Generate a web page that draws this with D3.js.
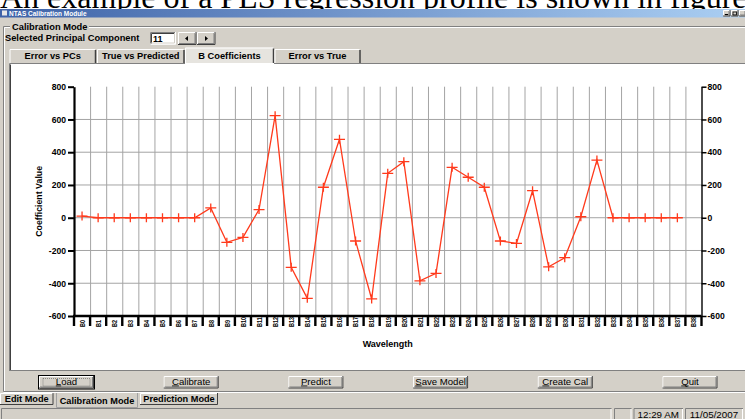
<!DOCTYPE html>
<html>
<head>
<meta charset="utf-8">
<script src="https://cdn.jsdelivr.net/npm/d3@7"></script>
<style>
html, body { margin: 0; padding: 0; background: #fff; overflow: hidden; }
svg { display: block; font-family: "Liberation Sans", Arial, sans-serif; }
</style>
</head>
<body>
<svg id="win" width="745" height="419"></svg>
<script>
// chart data
const bands = ["B0","B1","B2","B3","B4","B5","B6","B7","B8","B9","B10","B11","B12","B13",
    "B14","B15","B16","B17","B18","B19","B20","B21","B22","B23","B24","B25","B26","B27",
    "B28","B29","B30","B31","B32","B33","B34","B35","B36","B37","B38"];
const coefs = [10, 0, 0, 0, 0, 0, 0, 0, 60, -150, -120, 50, 623, -303, -492, 186, 479, -142,
    -496, 271, 342, -385, -340, 308, 247, 186, -142, -157, 165, -300, -244, 6, 352, 0, 0, 0, 0, 0];
const yTicks = [-600, -400, -200, 0, 200, 400, 600, 800];

// window texts
const pageTabs = ["Error vs PCs", "True vs Predicted", "B Coefficients", "Error vs True"];
const buttons = ["Load", "Calibrate", "Predict", "Save Model", "Create Cal", "Quit"];
const modeTabs = ["Edit Mode", "Calibration Mode", "Prediction Mode"];
const statusTexts = ["", "", "12:29 AM", "11/05/2007"];

const FACE = "#d4d0c8";
const svg = d3.select("#win");

function bevel(g, x, y, w, h, sunken, fill) {
    const a = sunken ? "#808080" : "#ffffff";
    const b = sunken ? "#ffffff" : "#404040";
    const c = sunken ? "#404040" : "#808080";
    g.append("rect").attr("x", x).attr("y", y).attr("width", w).attr("height", h)
        .attr("fill", fill || FACE);
    g.append("path").attr("d", `M${x + .5},${y + h}V${y + .5}H${x + w}`)
        .attr("fill", "none").attr("stroke", a);
    g.append("path").attr("d", `M${x},${y + h - .5}H${x + w - .5}V${y}`)
        .attr("fill", "none").attr("stroke", b);
    g.append("path").attr("d", `M${x + 1.5},${y + h - 1}V${y + 1.5}H${x + w - 1}`)
        .attr("fill", "none").attr("stroke", sunken ? "#404040" : FACE);
    g.append("path").attr("d", `M${x + 1},${y + h - 1.5}H${x + w - 1.5}V${y + 1}`)
        .attr("fill", "none").attr("stroke", sunken ? FACE : c);
}

// document text behind the window
svg.append("text")
    .attr("x", 0).attr("y", 7.5)
    .style("font-family", "'Liberation Serif', 'Times New Roman', serif")
    .style("font-size", "32px")
    .text("An example of a PLS regression profile is shown in figure");

// form background
svg.append("rect").attr("x", 0).attr("y", 9).attr("width", 745).attr("height", 410).attr("fill", FACE);

// title bar
const grad = svg.append("defs").append("linearGradient").attr("id", "tb");
grad.append("stop").attr("offset", "0%").attr("stop-color", "#3f63a8");
grad.append("stop").attr("offset", "100%").attr("stop-color", "#abcff3");
svg.append("rect").attr("x", 0).attr("y", 9).attr("width", 745).attr("height", 8.5).attr("fill", "url(#tb)");
svg.append("rect").attr("x", 2).attr("y", 10.5).attr("width", 5).attr("height", 5).attr("fill", "#e8e8e8");
svg.append("text").attr("x", 9).attr("y", 15.8)
    .style("font-size", "6.5px").style("font-weight", "bold").attr("fill", "#fff")
    .text("NTAS Calibration Module");
[723, 731, 739].forEach((bx, i) => {
    const g = svg.append("g");
    bevel(g, bx, 10, 7.5, 6.5, false);
    if (i === 0) g.append("rect").attr("x", bx + 2).attr("y", 14).attr("width", 3).attr("height", 1).attr("fill", "#000");
    if (i === 1) g.append("rect").attr("x", bx + 2).attr("y", 12).attr("width", 3.5).attr("height", 3)
        .attr("fill", "none").attr("stroke", "#000").attr("stroke-width", 0.8);
});

// group box "Calibration Mode"
const gb = svg.append("g");
gb.append("path").attr("d", "M3.5,391.5V26.5H10M89,26.5H745M3.5,391.5H745")
    .attr("fill", "none").attr("stroke", "#808080");
gb.append("path").attr("d", "M4.5,391V27.5H10M89,27.5H745M3.5,392.5H745")
    .attr("fill", "none").attr("stroke", "#fff");
const lbl = (x, y, t, size, weight) => svg.append("text").attr("x", x).attr("y", y)
    .style("font-size", size + "px").style("font-weight", weight || "bold").text(t);
lbl(12, 29.5, "Calibration Mode", 9.3);
lbl(5, 40.5, "Selected Principal Component", 9.3);

// spin box
bevel(svg.append("g"), 150, 32, 26, 12.5, true, "#fff");
lbl(153, 41.5, "11", 9);
const sb1 = svg.append("g"); bevel(sb1, 178, 32, 18.5, 13, false);
sb1.append("path").attr("d", "M185,38.5l3,-2.5v5z").attr("fill", "#000");
const sb2 = svg.append("g"); bevel(sb2, 197, 32, 18.5, 13, false);
sb2.append("path").attr("d", "M208,38.5l-3,-2.5v5z").attr("fill", "#000");

// page tabs
const tabEdges = [9, 96.5, 185, 274, 361];
const tabs = svg.append("g");
pageTabs.forEach((t, i) => {
    const sel = i === 2;
    const x0 = tabEdges[i] + (sel ? 0 : 0.5), x1 = tabEdges[i + 1] - (sel ? 0 : 0.5);
    const y0 = sel ? 47.5 : 49;
    tabs.append("rect").attr("x", x0).attr("y", y0).attr("width", x1 - x0).attr("height", 64 - y0)
        .attr("fill", sel ? "#e6e4df" : FACE);
    tabs.append("path").attr("d", `M${x0 + .5},63V${y0 + .5}H${x1 - 1}`)
        .attr("fill", "none").attr("stroke", "#fff");
    tabs.append("path").attr("d", `M${x1 - .5},${y0 + 1}V63`)
        .attr("fill", "none").attr("stroke", "#404040").attr("stroke-width", 1.5);
    tabs.append("text").attr("x", (x0 + x1) / 2).attr("y", 59).attr("text-anchor", "middle")
        .style("font-size", "9.3px").style("font-weight", "bold").text(t);
});

// tab page panel
svg.append("rect").attr("x", 9).attr("y", 63).attr("width", 736).attr("height", 308).attr("fill", "#fff");
svg.append("path").attr("d", "M9.5,371V63.5H185M274,63.5H745").attr("fill", "none").attr("stroke", "#808080");
svg.append("path").attr("d", "M10.5,370V64.5").attr("fill", "none").attr("stroke", "#404040");
svg.append("path").attr("d", "M9,370.5H745").attr("fill", "none").attr("stroke", "#808080");

// ---------------- chart ----------------
const plotLeft = 74, plotRight = 701.5, plotTop = 86.7, plotBottom = 316;

const x = d3.scaleBand().domain(bands).range([plotLeft, plotRight]).padding(0);
const y = d3.scaleLinear().domain([-600, 800]).range([plotBottom, plotTop]);
const cx = b => x(b) + x.bandwidth() / 2;

const chart = svg.append("g");

// vertical grid at band boundaries
chart.append("g").selectAll("line")
    .data(bands.slice(1))
    .join("line")
    .attr("x1", d => x(d) + 0.5).attr("x2", d => x(d) + 0.5)
    .attr("y1", plotTop).attr("y2", plotBottom)
    .attr("stroke", "#a4a4a4").attr("stroke-width", 1);

// horizontal grid
chart.append("g").selectAll("line")
    .data(yTicks.filter(v => v > -600 && v < 800))
    .join("line")
    .attr("x1", plotLeft).attr("x2", plotRight)
    .attr("y1", d => y(d)).attr("y2", d => y(d))
    .attr("stroke", "#a4a4a4").attr("stroke-width", 1);

// left axis
const leftAxis = chart.append("g")
    .attr("transform", `translate(${plotLeft},0)`)
    .call(d3.axisLeft(y).tickValues(yTicks).tickSize(6).tickSizeOuter(0).tickPadding(2)
        .tickFormat(d => String(d)));
leftAxis.select(".domain").attr("stroke", "#000").attr("stroke-width", 2.2);
leftAxis.selectAll(".tick line").attr("stroke", "#000").attr("stroke-width", 2);
leftAxis.selectAll("text").style("font-size", "8.6px").style("font-weight", "bold")
    .style("font-family", "'Liberation Sans', Arial, sans-serif").attr("fill", "#000");

// right axis
const rightAxis = chart.append("g")
    .attr("transform", `translate(${plotRight},0)`)
    .call(d3.axisRight(y).tickValues(yTicks).tickSize(5).tickSizeOuter(0).tickPadding(1)
        .tickFormat(d => String(d)));
rightAxis.select(".domain").attr("stroke", "#000").attr("stroke-width", 1.4);
rightAxis.selectAll(".tick line").attr("stroke", "#000").attr("stroke-width", 1.5);
rightAxis.selectAll("text").style("font-size", "8.6px").style("font-weight", "bold")
    .style("font-family", "'Liberation Sans', Arial, sans-serif").attr("fill", "#000");

// bottom axis with tick marks between the bands
chart.append("line")
    .attr("x1", plotLeft - 1).attr("x2", plotRight)
    .attr("y1", plotBottom).attr("y2", plotBottom)
    .attr("stroke", "#000").attr("stroke-width", 2.6);
chart.append("g").selectAll("line")
    .data(bands)
    .join("line")
    .attr("x1", d => x(d)).attr("x2", d => x(d))
    .attr("y1", plotBottom).attr("y2", plotBottom + 10)
    .attr("stroke", "#000").attr("stroke-width", 2.4);
chart.append("line")
    .attr("x1", plotRight).attr("x2", plotRight)
    .attr("y1", plotBottom).attr("y2", plotBottom + 10)
    .attr("stroke", "#000").attr("stroke-width", 2.4);
chart.append("g").selectAll("text")
    .data(bands)
    .join("text")
    .attr("transform", d => `translate(${cx(d) + 2.8},${plotBottom + 11}) rotate(-90) scale(0.72,1)`)
    .style("font-size", "7.6px").style("font-weight", "bold")
    .text(d => d);

// axis titles
chart.append("text")
    .attr("x", (plotLeft + plotRight) / 2).attr("y", 347)
    .attr("text-anchor", "middle")
    .style("font-size", "9px").style("font-weight", "bold")
    .text("Wavelength");
chart.append("text")
    .attr("transform", `translate(42,${(plotTop + plotBottom) / 2}) rotate(-90)`)
    .attr("text-anchor", "middle")
    .style("font-size", "8.8px").style("font-weight", "bold")
    .text("Coefficient Value");

// series
const pts = coefs.map((v, i) => ({ b: bands[i], v }));
const red = "#ff3a1c";
chart.append("path")
    .datum(pts)
    .attr("fill", "none").attr("stroke", red).attr("stroke-width", 1.3)
    .attr("d", d3.line().x(d => cx(d.b)).y(d => y(d.v)));
chart.append("g").selectAll("path")
    .data(pts)
    .join("path")
    .attr("d", d => `M${cx(d.b) - 5.5},${y(d.v)}h11M${cx(d.b)},${y(d.v) - 4.5}v9`)
    .attr("fill", "none").attr("stroke", red).attr("stroke-width", 1.3);

// ---------------- bottom controls ----------------
const bx = d3.scalePoint().domain(buttons).range([66.5, 690]);
buttons.forEach((t, i) => {
    const g = svg.append("g");
    const w = 55, x0 = bx(t) - w / 2;
    if (i === 0) {
        g.append("rect").attr("x", x0 - 1).attr("y", 375).attr("width", w + 2).attr("height", 14.5).attr("fill", "#000");
        bevel(g, x0, 376, w, 12.5, false);
        g.append("rect").attr("x", x0 + 4).attr("y", 378.5).attr("width", w - 8).attr("height", 7.5)
            .attr("fill", "none").attr("stroke", "#555").attr("stroke-width", 0.6).attr("stroke-dasharray", "1,1");
    } else {
        bevel(g, x0, 376, w, 12.5, false);
    }
    const tx = g.append("text").attr("x", bx(t)).attr("y", 384.7).attr("text-anchor", "middle")
        .style("font-size", "9.6px").text(t);
    // accelerator underline under the first letter
    const node = tx.node();
    const full = node.getComputedTextLength();
    const first = node.getSubStringLength(0, 1);
    const ux = bx(t) - full / 2;
    g.append("line").attr("x1", ux).attr("x2", ux + first)
        .attr("y1", 385.9).attr("y2", 385.9).attr("stroke", "#000").attr("stroke-width", 0.8);
});

// mode tabs
const modeBoxes = [[0, 53.5], [56, 138], [140, 218]];
modeTabs.forEach((t, i) => {
    const [x0, x1] = modeBoxes[i];
    const g = svg.append("g");
    if (i !== 1) {
        g.append("path").attr("d", `M${x0 + .5},405V393.5H${x1}`).attr("fill", "none").attr("stroke", "#fff");
        g.append("path").attr("d", `M${x0},404.5H${x1 - .5}V393`).attr("fill", "none").attr("stroke", "#404040");
    } else {
        g.append("path").attr("d", `M${x0 + .5},393V407.5H${x1 - .5}V393`).attr("fill", "none").attr("stroke", "#a0a0a0");
    }
    g.append("text").attr("x", (x0 + x1) / 2).attr("y", i === 1 ? 404 : 402.3)
        .attr("text-anchor", "middle")
        .style("font-size", "9.2px").style("font-weight", "bold").text(t);
});

// status bar
const statusBoxes = [[1, 611.5], [614, 631.5], [633.5, 683], [685, 743]];
statusTexts.forEach((t, i) => {
    const [x0, x1] = statusBoxes[i];
    const g = svg.append("g");
    g.append("path").attr("d", `M${x0 + .5},419V408.5H${x1}`).attr("fill", "none").attr("stroke", "#808080");
    g.append("path").attr("d", `M${x1 - .5},409V419`).attr("fill", "none").attr("stroke", "#fff");
    if (t) g.append("text").attr("x", (x0 + x1) / 2).attr("y", 418.3).attr("text-anchor", "middle")
        .style("font-size", "9.8px").text(t);
});
</script>
</body>
</html>
